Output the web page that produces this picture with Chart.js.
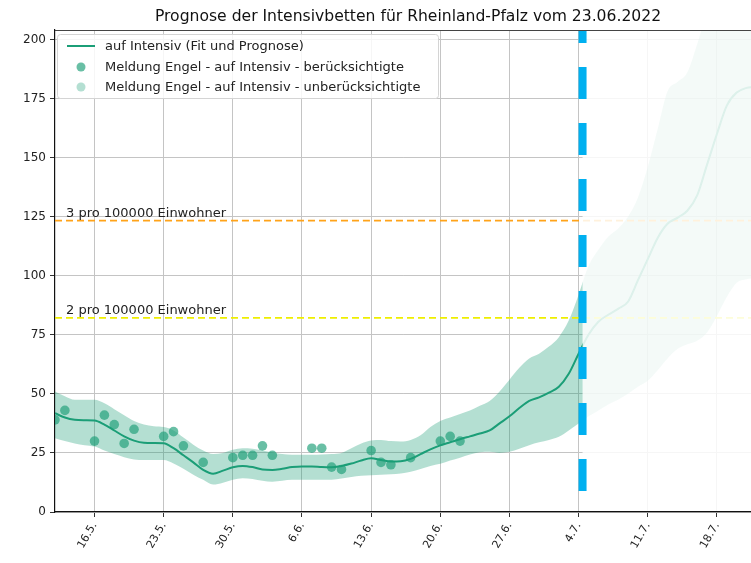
<!DOCTYPE html>
<html>
<head>
<meta charset="utf-8">
<title>Prognose Intensivbetten Rheinland-Pfalz</title>
<script src="https://cdn.jsdelivr.net/npm/chart.js@4/dist/chart.umd.min.js"></script>
<style>
  html, body { margin: 0; padding: 0; background: #fff; overflow: hidden; }
</style>
</head>
<body>
<canvas id="chart" width="751" height="563"></canvas>
<script>
// Tage seit 12.5.2022
const titleText = 'Prognose der Intensivbetten für Rheinland-Pfalz vom 23.06.2022';
const tickDays = [4, 11, 18, 25, 32, 39, 46, 53, 60, 67];
const tickLabels = ['16.5.', '23.5.', '30.5.', '6.6.', '13.6.', '20.6.', '27.6.', '4.7.', '11.7.', '18.7.'];
const yTicks = [0, 25, 50, 75, 100, 125, 150, 175, 200];
const cutoffDay = 53.4;

const fitDays = [0,1,2,3,4,5,6,7,8,9,10,11,12,13,14,15,16,17,18,19,20,21,22,23,24,25,26,27,28,29,30,31,32,33,34,35,
  36,37,38,39,40,41,42,43,44,45,46,47,48,49,50,51,52,53,54,55,56,57,58,59,60,61,62,63,64,65,66,67,68,69,70,71];
const fitValues = [41.8,40,39,38.8,38.7,37,34.5,32,30.2,29.3,29.2,29.1,27,24,21,17.8,16.2,17.5,18.9,19.5,19,18,17.8,18.3,
  19,19.3,19.3,19,18.9,19.5,20.5,21.8,22.7,22,21.4,21.5,22.5,24.5,26.5,28.2,29.5,30.8,32,33.2,34.5,37.5,40.5,44,47,48.5,
  50.5,53,58.5,67,75,80.5,83.5,86,89,98,107,116,122,124.5,127.5,134,147,160,172,177.5,179.5,180];
const bandUpper = [51,49,47.5,47.5,47.5,46,43.5,41,38.5,37,36.3,36,34.5,31.5,28.5,26,24.5,25,26.3,27,26.8,26,25.2,24.5,
  24.2,24.2,24.2,24.3,24.5,25,27,29,30.3,30.5,30,29.8,30.5,32.5,36,38.5,40,41.5,43,45,47,51,56,61,65,67,
  70,74,81,92,104,111,116.5,120,125,133,146,162,178,182,186,198,212,225,235,240,245,250];
const bandLower = [31.2,30,29,28.3,27.7,26,24.5,23.2,22.2,22,22,22,20.5,18.3,15.8,13.6,11.6,12.4,13.6,14.3,14,13.2,12.8,13.2,
  13.6,13.6,13.6,13.6,13.7,14.2,14.8,15.3,15.6,15.8,16,16.3,17,18.2,19.5,20.4,21.8,23,24.3,25.3,25.5,25,25.5,26.8,28.3,29.5,
  30.5,31.8,34.5,37.5,40.5,43,45.5,47.5,50,53,55.5,60,65,69,71,72.5,76,83,91,97,98.5,99];

const meldDays = [0,1,4,5,6,7,8,11,12,13,15,18,19,20,21,22,26,27,28,29,32,33,34,36,39,40,41];
const meldValues = [39,43,30,41,37,29,35,32,34,28,21,23,24,24,28,24,27,27,19,18,26,21,20,23,30,32,30];
const meldOldDays = [];
const meldOldValues = [];

const thresholdValues = [123.3, 82.2];
const thresholdLabels = ['3 pro 100000 Einwohner', '2 pro 100000 Einwohner'];
const thresholdColors = ['#ffa31a', '#eeee00'];

const X_MIN = 0, X_MAX = 70.45;
const TEAL = '#1b9e77';
const FONT = '"DejaVu Sans", sans-serif';

function pts(xs, ys) { return xs.map((x, i) => ({ x: x, y: ys[i] })); }

const datasets = [
  { label: 'Meldung Engel - auf Intensiv - berücksichtigte', type: 'scatter', data: pts(meldDays, meldValues),
    backgroundColor: 'rgba(27,158,119,0.66)', borderWidth: 0, pointRadius: 4.8, order: 1 },
  { label: 'Meldung Engel - auf Intensiv - unberücksichtigte', type: 'scatter', data: pts(meldOldDays, meldOldValues),
    backgroundColor: 'rgba(27,158,119,0.33)', borderWidth: 0, pointRadius: 4.8, order: 1 },
  { label: 'auf Intensiv (Fit und Prognose)', data: pts(fitDays, fitValues), borderColor: TEAL, borderWidth: 2,
    pointRadius: 0, cubicInterpolationMode: 'monotone', fill: false, order: 2 },
  { label: 'upper', data: pts(fitDays, bandUpper), borderWidth: 0, pointRadius: 0, cubicInterpolationMode: 'monotone',
    fill: '+1', backgroundColor: 'rgba(27,158,119,0.33)', order: 5 },
  { label: 'lower', data: pts(fitDays, bandLower), borderWidth: 0, pointRadius: 0, cubicInterpolationMode: 'monotone',
    fill: false, order: 5 }
];
thresholdValues.forEach((v, i) => {
  datasets.push({ label: thresholdLabels[i], data: [{ x: X_MIN, y: v }, { x: X_MAX, y: v }], borderColor: thresholdColors[i],
    borderWidth: 1.7, borderDash: [7, 4], pointRadius: 0, fill: false, order: 3 });
});

const extras = {
  id: 'extras',
  afterDatasetsDraw(chart) {
    const ctx = chart.ctx, a = chart.chartArea;
    const xs = chart.scales.x, ys = chart.scales.y;
    const cx = xs.getPixelForValue(cutoffDay);
    ctx.save();
    // Prognosebereich aufhellen
    ctx.fillStyle = 'rgba(255,255,255,0.85)';
    ctx.fillRect(cx, a.top, a.right - cx, a.bottom - a.top - 1);
    // Stichtag
    ctx.strokeStyle = '#00b0f0';
    ctx.lineWidth = 8;
    ctx.setLineDash([32, 24]);
    ctx.lineDashOffset = 19;
    ctx.beginPath();
    ctx.moveTo(cx, a.top);
    ctx.lineTo(cx, a.bottom);
    ctx.stroke();
    ctx.setLineDash([]);
    // Schwellen-Beschriftung
    ctx.font = '13px ' + FONT;
    ctx.fillStyle = '#222';
    ctx.textAlign = 'left';
    ctx.textBaseline = 'alphabetic';
    thresholdValues.forEach((v, i) => {
      ctx.fillText(thresholdLabels[i], a.left + 11, ys.getPixelForValue(v) - 3.5);
    });
    // obere Achse
    ctx.strokeStyle = '#444';
    ctx.lineWidth = 1;
    ctx.beginPath();
    ctx.moveTo(a.left, a.top + 0.5);
    ctx.lineTo(a.right, a.top + 0.5);
    ctx.stroke();
    // Legende
    const bx = 57.5, by = 34.5, bw = 381, bh = 64;
    ctx.fillStyle = 'rgba(255,255,255,0.85)';
    ctx.strokeStyle = '#d4d4d4';
    ctx.beginPath();
    ctx.roundRect(bx, by, bw, bh, 3);
    ctx.fill();
    ctx.stroke();
    const ds = chart.data.datasets;
    const rows = [
      { y: 46, kind: 'line', d: ds[2] },
      { y: 67, kind: 'dot', d: ds[0] },
      { y: 87, kind: 'dot', d: ds[1] }
    ];
    ctx.textBaseline = 'middle';
    rows.forEach(r => {
      if (r.kind === 'line') {
        ctx.strokeStyle = r.d.borderColor;
        ctx.lineWidth = 2;
        ctx.beginPath();
        ctx.moveTo(67, r.y);
        ctx.lineTo(95, r.y);
        ctx.stroke();
      } else {
        ctx.fillStyle = r.d.backgroundColor;
        ctx.beginPath();
        ctx.arc(81, r.y, 4.5, 0, Math.PI * 2);
        ctx.fill();
      }
      ctx.fillStyle = '#222';
      ctx.fillText(r.d.label, 105, r.y + 1);
    });
    ctx.restore();
  },
  afterDraw(chart) {
    const ctx = chart.ctx, a = chart.chartArea;
    ctx.save();
    ctx.font = '15.6px ' + FONT;
    ctx.fillStyle = '#111';
    ctx.textAlign = 'center';
    ctx.textBaseline = 'alphabetic';
    ctx.fillText(titleText, (a.left + a.right) / 2 + 5, 21);
    ctx.restore();
  }
};

new Chart(document.getElementById('chart'), {
  type: 'line',
  data: { datasets: datasets },
  options: {
    responsive: false,
    animation: false,
    devicePixelRatio: 1,
    layout: { autoPadding: false, padding: { top: 30, right: 0, left: 0, bottom: 0 } },
    plugins: { legend: { display: false }, tooltip: { enabled: false }, title: { display: false } },
    scales: {
      x: {
        type: 'linear', min: X_MIN, max: X_MAX,
        afterBuildTicks: s => { s.ticks = tickDays.map(v => ({ value: v })); },
        afterFit: s => { s.height = 51; s.paddingLeft = 0; s.paddingRight = 0; },
        ticks: {
          autoSkip: false, minRotation: 60, maxRotation: 60, padding: 3,
          font: { family: FONT, size: 11 }, color: '#222',
          callback: v => tickLabels[tickDays.indexOf(v)]
        },
        grid: { color: '#c4c4c4', lineWidth: 1, tickLength: 5, tickColor: '#333' },
        border: { color: '#111', width: 1.2 }
      },
      y: {
        min: 0, max: 204,
        afterBuildTicks: s => { s.ticks = yTicks.map(v => ({ value: v })); },
        afterFit: s => { s.width = 55; s.paddingTop = 0; s.paddingBottom = 0; },
        ticks: { font: { family: FONT, size: 12 }, color: '#222', padding: 4 },
        grid: { color: '#c4c4c4', lineWidth: 1, tickLength: 5, tickColor: '#333' },
        border: { color: '#111', width: 1.2 }
      }
    }
  },
  plugins: [extras]
});
</script>
</body>
</html>
